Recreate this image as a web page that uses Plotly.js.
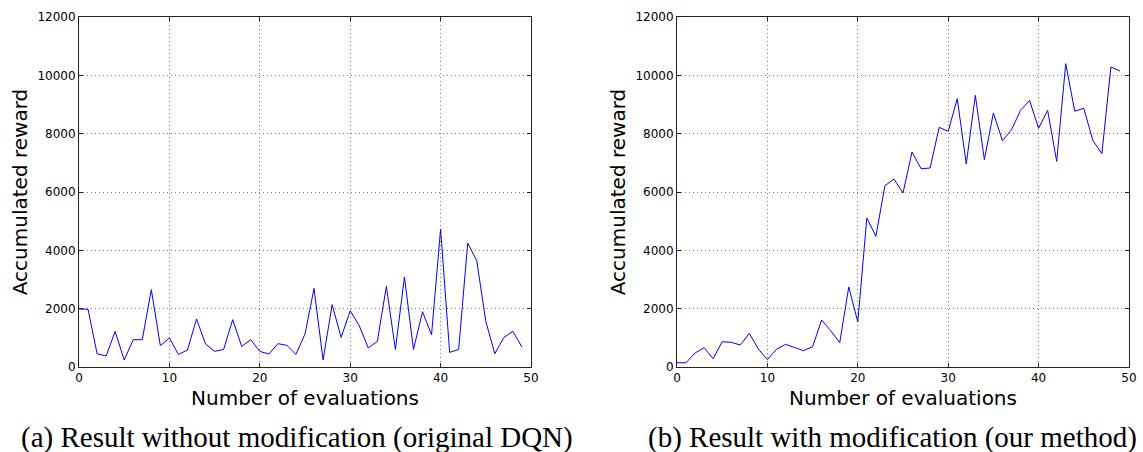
<!DOCTYPE html>
<html>
<head>
<meta charset="utf-8">
<script src="https://cdn.plot.ly/plotly-3.0.1.min.js"></script>
<style>html,body{margin:0;padding:0;background:#fff;}#chart{width:1143px;height:452px;}</style>
</head>
<body>
<div id="chart"></div>
<script>
const evaluations = [0,1,2,3,4,5,6,7,8,9,10,11,12,13,14,15,16,17,18,19,20,21,22,23,24,25,26,27,28,29,30,31,32,33,34,35,36,37,38,39,40,41,42,43,44,45,46,47,48,49];
const rewardOriginal = [1990,1980,456,377,1220,240,936,936,2650,730,994,432,583,1646,788,535,603,1622,706,936,535,445,800,741,432,1131,2695,240,2136,1015,1930,1416,651,878,2764,603,3085,603,1896,1107,4730,500,603,4250,3644,1564,456,1015,1220,685];
const rewardOurs = [147,147,480,662,285,868,845,754,1152,617,250,605,776,674,560,697,1611,1245,833,2743,1543,5109,4480,6216,6445,5966,7371,6798,6822,8216,8079,9200,6960,9313,7108,8710,7760,8130,8800,9140,8185,8800,7050,10400,8770,8870,7770,7314,10285,10150];
const xTitle = "Number of evaluations";
const yTitle = "Accumulated reward";
const captionA = "(a) Result without modification (original DQN)";
const captionB = "(b) Result with modification (our method)";

const sans = "DejaVu Sans, sans-serif";
const lineStyle = {color: "#0000ff", width: 1};

const traces = [
  {x: evaluations, y: rewardOriginal, type: "scatter", mode: "lines", line: lineStyle, xaxis: "x", yaxis: "y", showlegend: false, hoverinfo: "x+y"},
  {x: evaluations, y: rewardOurs, type: "scatter", mode: "lines", line: lineStyle, xaxis: "x2", yaxis: "y2", showlegend: false, hoverinfo: "x+y"}
];

function xa(domain, anchor) {
  return {
    domain: domain, anchor: anchor, range: [0, 50], dtick: 10, tick0: 0,
    showline: true, linecolor: "#222", linewidth: 1, mirror: "ticks",
    ticks: "inside", ticklen: 4, tickcolor: "#222",
    showgrid: true, gridcolor: "#777", griddash: "1px,3px", gridwidth: 1,
    zeroline: false, tickfont: {family: sans, size: 12, color: "#000"},
    title: {text: xTitle, font: {family: sans, size: 20, color: "#000"}, standoff: 6},
    automargin: false, fixedrange: true
  };
}
function ya(anchor) {
  return {
    domain: [0, 1], anchor: anchor, range: [0, 12000], dtick: 2000, tick0: 0,
    tickformat: "d",
    showline: true, linecolor: "#222", linewidth: 1, mirror: "ticks",
    ticks: "inside", ticklen: 4, tickcolor: "#222",
    showgrid: true, gridcolor: "#777", griddash: "1px,3px", gridwidth: 1,
    zeroline: false, tickfont: {family: sans, size: 12, color: "#000"},
    title: {text: yTitle, font: {family: sans, size: 20, color: "#000"}, standoff: 4},
    automargin: false, fixedrange: true
  };
}

const layout = {
  width: 1143, height: 452,
  margin: {l: 79, r: 14, t: 17, b: 85},
  paper_bgcolor: "#fff", plot_bgcolor: "#fff",
  xaxis: xa([0, 452/1050], "y"),
  yaxis: ya("x"),
  xaxis2: xa([598/1050, 1050/1050], "y2"),
  yaxis2: ya("x2"),
  annotations: [
    {text: captionA, xref: "paper", yref: "paper", x: 0.208, y: -0.2, xanchor: "center", yanchor: "middle", showarrow: false, font: {family: "Liberation Serif, serif", size: 29, color: "#000"}},
    {text: captionB, xref: "paper", yref: "paper", x: 0.7748, y: -0.2, xanchor: "center", yanchor: "middle", showarrow: false, font: {family: "Liberation Serif, serif", size: 29, color: "#000"}}
  ]
};

Plotly.newPlot("chart", traces, layout, {staticPlot: true, displayModeBar: false});
</script>
</body>
</html>
